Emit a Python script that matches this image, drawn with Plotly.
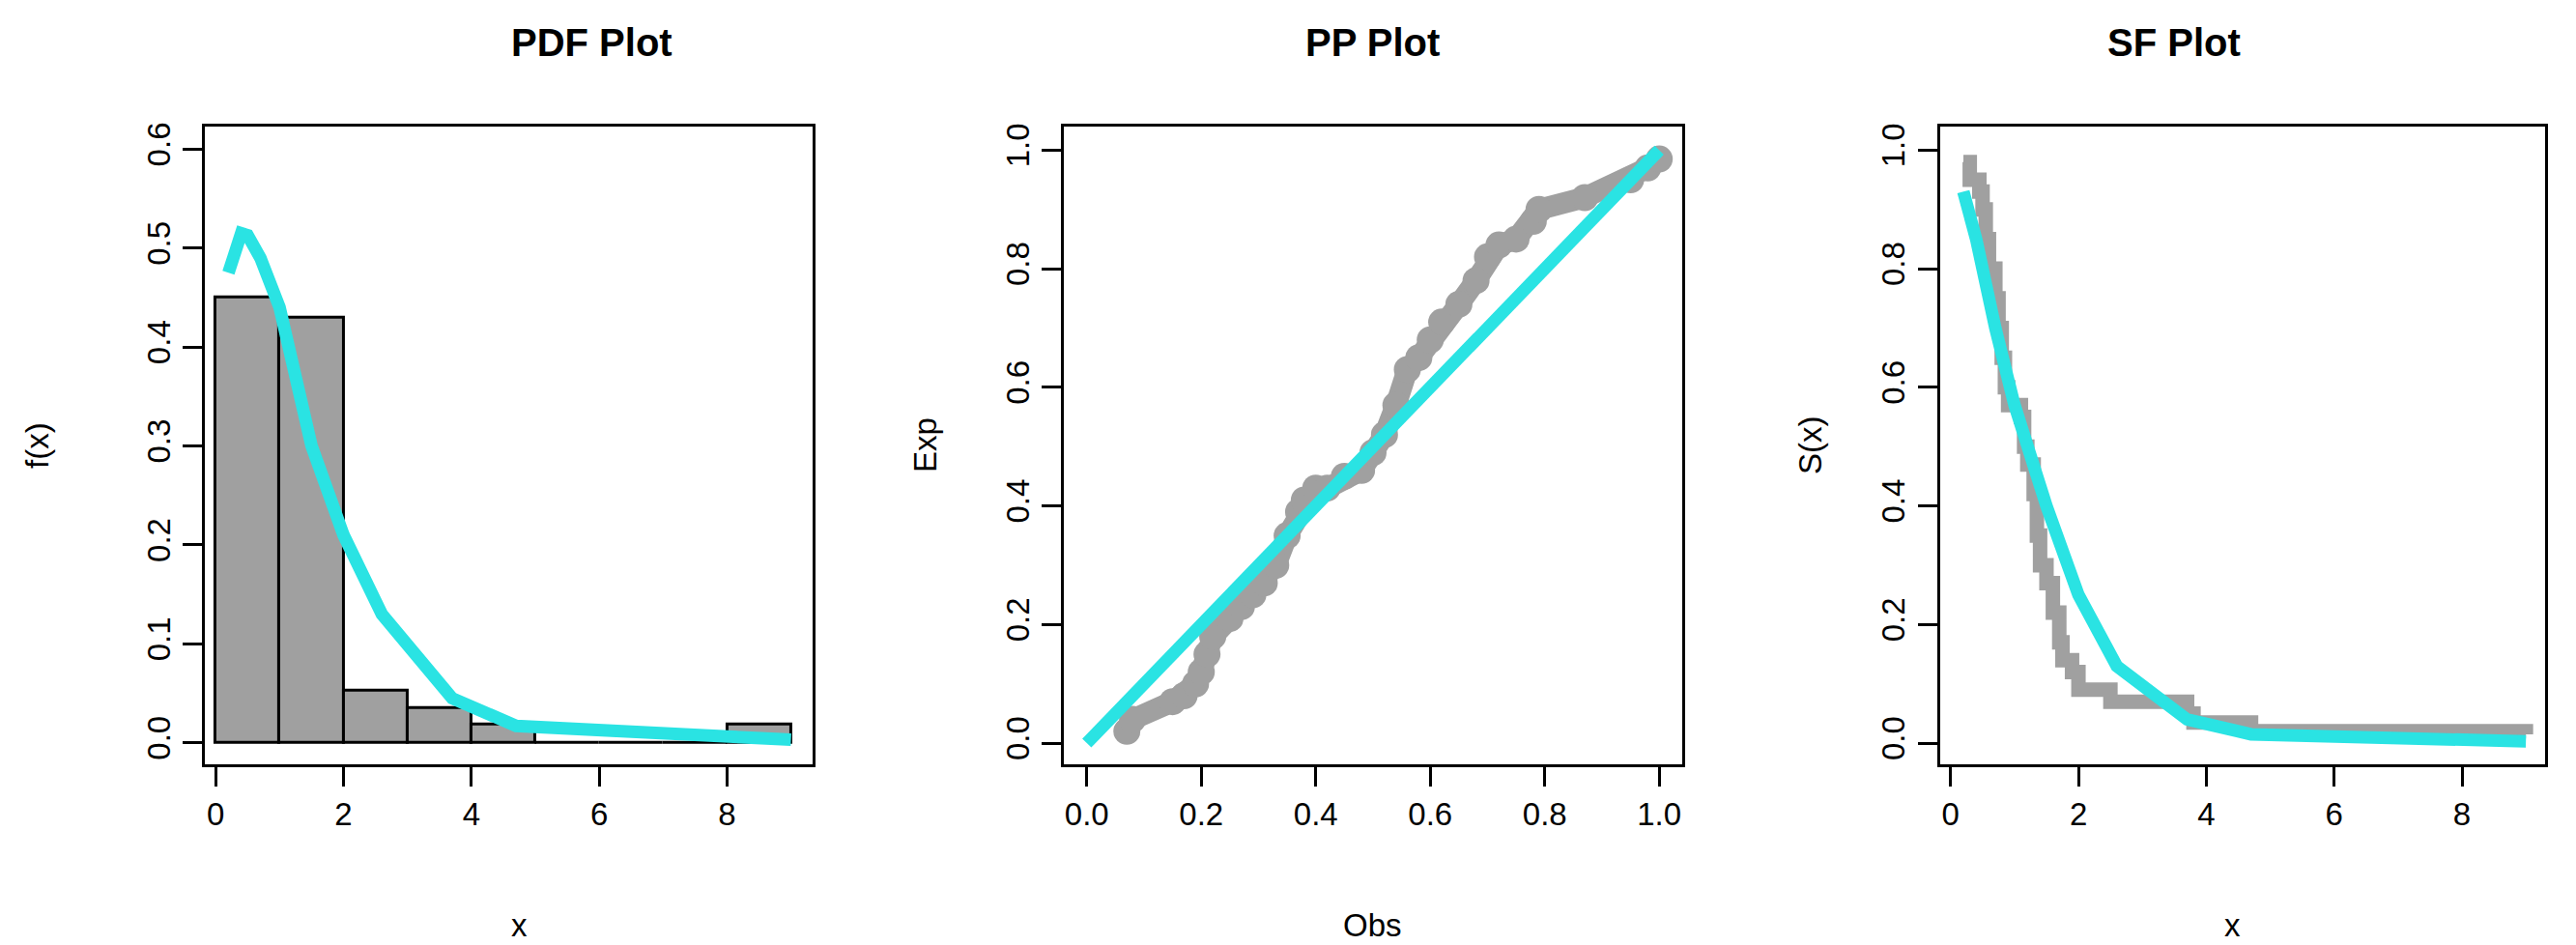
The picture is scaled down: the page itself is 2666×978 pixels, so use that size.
import plotly.graph_objects as go

# PDF histogram
bin_left = [0, 1, 2, 3, 4, 5, 6, 7, 8]
bin_dens = [0.45, 0.43, 0.053, 0.035, 0.018, 0, 0, 0, 0.018]
pdf_x = [0.2, 0.3, 0.4, 0.5, 0.7, 1.0, 1.5, 2.0, 2.6, 3.7, 4.7, 9.0]
pdf_y = [0.475, 0.50, 0.515, 0.513, 0.49, 0.44, 0.30, 0.21, 0.13, 0.045, 0.017, 0.003]

# PP
pp_obs = [0.07,0.08,0.15,0.17,0.19,0.2,0.21,0.22,0.25,0.27,0.29,0.31,0.33,0.35,0.37,0.38,0.40,0.42,0.45,0.48,0.5,0.52,0.54,0.56,0.58,0.60,0.62,0.65,0.68,0.70,0.72,0.75,0.78,0.79,0.87,0.95,0.98,1.0]
pp_exp = [0.02,0.04,0.07,0.08,0.10,0.12,0.15,0.18,0.21,0.23,0.25,0.27,0.30,0.35,0.39,0.41,0.43,0.43,0.45,0.46,0.49,0.52,0.57,0.63,0.65,0.68,0.71,0.74,0.78,0.82,0.84,0.85,0.88,0.90,0.92,0.95,0.97,0.985]
pp_line = [0, 1]

# SF
sf_emp_x = [0.2,0.3,0.45,0.5,0.55,0.6,0.7,0.75,0.8,0.85,0.9,1.1,1.15,1.2,1.3,1.35,1.4,1.5,1.6,1.7,1.75,1.9,2.0,2.5,3.7,3.8,4.7,9.0]
sf_emp_y = [0.98,0.95,0.93,0.90,0.85,0.80,0.75,0.70,0.65,0.60,0.57,0.55,0.50,0.47,0.42,0.35,0.30,0.27,0.22,0.17,0.14,0.12,0.09,0.07,0.05,0.035,0.02,0.015]
sf_fit_x = [0.2, 0.4, 0.7, 1.0, 1.5, 2.0, 2.6, 3.7, 4.7, 9.0]
sf_fit_y = [0.93, 0.85, 0.70, 0.57, 0.40, 0.25, 0.13, 0.04, 0.015, 0.003]

GRAY = "#A0A0A0"
CYAN = "#2AE3E3"
FONT = "Liberation Sans"

fig = go.Figure()
fig.add_trace(go.Bar(x=[b + 0.5 for b in bin_left], y=bin_dens, width=1,
                     marker=dict(color=GRAY, line=dict(color="black", width=3)),
                     xaxis="x", yaxis="y"))
fig.add_trace(go.Scatter(x=pdf_x, y=pdf_y, mode="lines", line=dict(color=CYAN, width=13),
                         xaxis="x", yaxis="y"))
fig.add_trace(go.Scatter(x=pp_obs, y=pp_exp, mode="lines+markers", line=dict(color=GRAY, width=22),
                         marker=dict(color=GRAY, size=28), xaxis="x2", yaxis="y2"))
fig.add_trace(go.Scatter(x=pp_line, y=pp_line, mode="lines", line=dict(color=CYAN, width=13),
                         xaxis="x2", yaxis="y2"))
fig.add_trace(go.Scatter(x=sf_emp_x, y=sf_emp_y, mode="lines", line=dict(color=GRAY, width=15, shape="hv"),
                         xaxis="x3", yaxis="y3"))
fig.add_trace(go.Scatter(x=sf_fit_x, y=sf_fit_y, mode="lines", line=dict(color=CYAN, width=13),
                         xaxis="x3", yaxis="y3"))

ax = dict(showline=True, mirror=True, linecolor="black", linewidth=3, ticks="outside",
          ticklen=20, tickwidth=3, tickcolor="black", showgrid=False, zeroline=False,
          tickfont=dict(size=33, color="black"))
ydom = [0.20, 0.878]
layout = dict(
    width=2666, height=978, showlegend=False, plot_bgcolor="white", paper_bgcolor="white",
    margin=dict(l=0, r=0, t=0, b=0), font=dict(family=FONT, color="black"), bargap=0,
    xaxis=dict(ax, domain=[0.0765, 0.3125], range=[-0.17, 9.34], tickvals=[0, 2, 4, 6, 8]),
    yaxis=dict(ax, domain=ydom, range=[-0.022, 0.623], tickvals=[0, 0.1, 0.2, 0.3, 0.4, 0.5, 0.6],
               tickformat=".1f", tickangle=-90),
    xaxis2=dict(ax, domain=[0.41, 0.65], range=[-0.04, 1.04], tickvals=[0, 0.2, 0.4, 0.6, 0.8, 1.0],
                tickformat=".1f", anchor="y2"),
    yaxis2=dict(ax, domain=ydom, range=[-0.036, 1.04], tickvals=[0, 0.2, 0.4, 0.6, 0.8, 1.0],
                tickformat=".1f", tickangle=-90, anchor="x2"),
    xaxis3=dict(ax, domain=[0.75, 0.985], range=[-0.17, 9.3], tickvals=[0, 2, 4, 6, 8], anchor="y3"),
    yaxis3=dict(ax, domain=ydom, range=[-0.036, 1.04], tickvals=[0, 0.2, 0.4, 0.6, 0.8, 1.0],
                tickformat=".1f", tickangle=-90, anchor="x3"),
)
fig.update_layout(**layout)

anns = []
for cx, t in [(0.1945, "PDF Plot"), (0.53, "PP Plot"), (0.8675, "SF Plot")]:
    anns.append(dict(x=cx, y=1 - 32 / 978, xref="paper", yref="paper", text=f"<b>{t}</b>",
                     showarrow=False, font=dict(size=40, family=FONT), yanchor="middle"))
for cx, t in [(0.1945, "x"), (0.53, "Obs"), (0.8675, "x")]:
    anns.append(dict(x=cx, y=1 - 949 / 978, xref="paper", yref="paper", text=t,
                     showarrow=False, font=dict(size=33, family=FONT), yanchor="middle"))
for px, t in [(30, "f(x)"), (949, "Exp"), (1865, "S(x)")]:
    anns.append(dict(x=px / 2666, y=0.539, xref="paper", yref="paper", text=t, textangle=-90,
                     showarrow=False, font=dict(size=33, family=FONT), xanchor="center"))
fig.update_layout(annotations=anns)
fig.write_html("out.html")
